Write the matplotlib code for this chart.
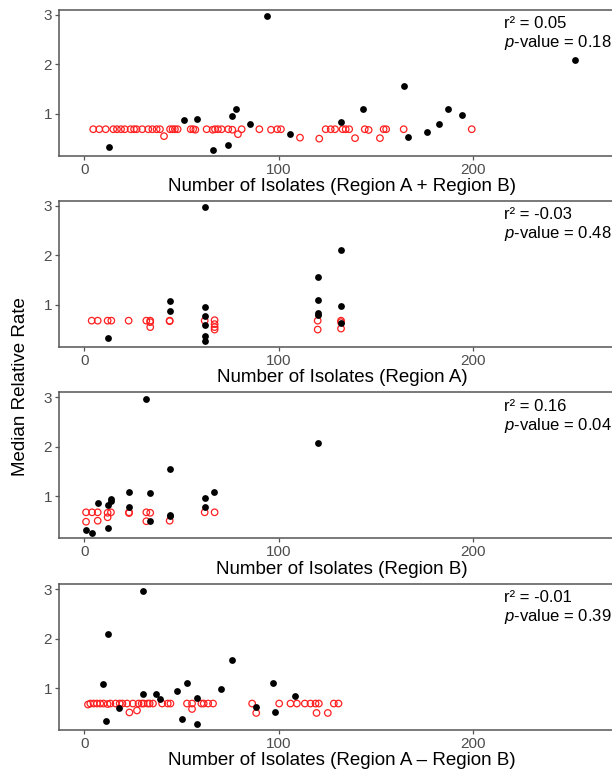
import numpy as np
import matplotlib
matplotlib.use('Agg')
from matplotlib import pyplot as plt

plt.rcParams['font.family'] = ['Liberation Sans', 'DejaVu Sans']
plt.rcParams['mathtext.fontset'] = 'custom'
plt.rcParams['mathtext.rm'] = 'Liberation Sans'
plt.rcParams['mathtext.it'] = 'Liberation Sans:italic'

# panel 1: Region A + Region B
p1_black_x = [12.9, 51.1, 57.8, 66.0, 73.9, 75.9, 78.0, 85.0, 93.9, 105.9, 132.0,
              143.1, 164.4, 166.3, 176.2, 182.2, 187.1, 194.3, 252.4]
p1_black_y = [0.34, 0.885, 0.90, 0.28, 0.38, 0.96, 1.095, 0.80, 2.97, 0.60, 0.84,
              1.10, 1.57, 0.53, 0.635, 0.80, 1.10, 0.98, 2.095]
p1_red_x = [4.6, 7.7, 11.0, 14.9, 16.8, 18.9, 20.8, 23.8, 25.6, 26.9, 29.8, 32.9, 35.0,
            37.2, 38.9, 41.0, 44.1, 45.4, 46.6, 48.0, 54.7, 56.0, 57.1, 62.9, 66.0,
            67.2, 68.7, 70.6, 74.0, 76.1, 79.0, 80.9, 90.0, 96.0, 99.2, 101.1, 110.9,
            120.8, 124.1, 126.7, 128.9, 132.8, 134.4, 136.2, 139.2, 144.2, 146.2,
            152.0, 153.9, 155.2, 164.2, 199.2]
p1_red_y = [0.69, 0.69, 0.69, 0.69, 0.69, 0.69, 0.69, 0.69, 0.69, 0.69, 0.69, 0.69, 0.69,
            0.69, 0.69, 0.55, 0.69, 0.69, 0.69, 0.69, 0.69, 0.69, 0.68, 0.69, 0.68,
            0.69, 0.69, 0.69, 0.69, 0.68, 0.59, 0.69, 0.69, 0.68, 0.69, 0.69, 0.52,
            0.50, 0.69, 0.69, 0.69, 0.69, 0.69, 0.69, 0.51, 0.69, 0.675,
            0.51, 0.69, 0.69, 0.69, 0.69]

# panel 2: Region A
p2_black_x = [12.0, 43.9, 43.9, 61.9, 61.9, 61.9, 61.9, 61.9, 61.9,
              120.0, 120.0, 120.0, 120.0, 132.0, 132.0, 132.0]
p2_black_y = [0.335, 1.08, 0.885, 2.98, 0.95, 0.78, 0.59, 0.376, 0.27,
              1.56, 1.095, 0.84, 0.80, 2.10, 0.98, 0.63]
p2_red_x = [3.8, 6.9, 12.0, 13.9, 22.8, 31.9, 33.9, 33.9, 33.9, 43.9, 43.9, 61.9,
            67.0, 67.0, 67.0, 67.0, 120.0, 120.0, 132.0, 132.0, 132.0]
p2_red_y = [0.68, 0.68, 0.68, 0.68, 0.68, 0.68, 0.68, 0.65, 0.55, 0.68, 0.67, 0.68,
            0.69, 0.61, 0.55, 0.50, 0.68, 0.50, 0.68, 0.65, 0.52]

# panel 3: Region B
p3_black_x = [31.9, 120.0, 43.9, 23.0, 33.9, 66.8, 61.9, 61.9, 6.9, 12.0, 13.7, 13.7,
              23.0, 43.9, 43.9, 33.9, 0.9, 4.0, 12.0]
p3_black_y = [2.965, 2.087, 1.55, 1.085, 1.07, 1.085, 0.96, 0.79, 0.87, 0.83, 0.90, 0.94,
              0.78, 0.63, 0.60, 0.51, 0.33, 0.27, 0.355]
p3_red_x = [0.9, 0.9, 4.0, 6.9, 6.9, 12.0, 12.0, 13.7, 23.0, 23.0, 31.9, 31.9, 33.9,
            43.9, 61.9, 67.0]
p3_red_y = [0.68, 0.49, 0.68, 0.68, 0.51, 0.67, 0.58, 0.68, 0.68, 0.665, 0.68, 0.50, 0.67,
            0.51, 0.68, 0.68]

# panel 4: Region A - Region B
p4_black_x = [30.0, 12.0, 9.8, 11.0, 18.0, 30.0, 37.0, 38.9, 47.8, 50.1, 53.0, 58.0,
              58.0, 70.1, 75.9, 88.1, 97.0, 98.0, 108.2]
p4_black_y = [2.97, 2.10, 1.08, 0.34, 0.60, 0.89, 0.885, 0.78, 0.95, 0.37, 1.10, 0.80,
              0.28, 0.98, 1.56, 0.63, 1.10, 0.51, 0.84]
p4_red_x = [1.9, 3.1, 4.8, 6.5, 8.2, 9.9, 12.0, 13.4, 16.1, 18.2, 19.6, 22.0, 23.2, 25.0,
            27.1, 27.9, 29.5, 30.5, 32.6, 33.6, 35.3, 40.0, 42.9, 44.3, 52.8, 55.4,
            55.4, 60.2, 61.4, 63.7, 66.2, 86.3, 88.4, 100.2, 106.0, 109.3, 113.4,
            116.3, 118.9, 119.4, 120.6, 125.2, 128.3, 130.7]
p4_red_y = [0.67, 0.69, 0.69, 0.69, 0.69, 0.69, 0.68, 0.69, 0.69, 0.69, 0.69, 0.69, 0.51, 0.69,
            0.55, 0.69, 0.69, 0.69, 0.69, 0.69, 0.69, 0.69, 0.69, 0.69, 0.69, 0.69,
            0.58, 0.69, 0.69, 0.69, 0.69, 0.69, 0.50, 0.69, 0.69, 0.69, 0.69,
            0.69, 0.69, 0.50, 0.69, 0.50, 0.69, 0.69]

x_labels = ['Number of Isolates (Region A + Region B)',
            'Number of Isolates (Region A)',
            'Number of Isolates (Region B)',
            'Number of Isolates (Region A \u2013 Region B)']
r2_values = ['0.05', '-0.03', '0.16', '-0.01']
p_values = ['0.18', '0.48', '0.04', '0.39']

panels = [
    (p1_black_x, p1_black_y, p1_red_x, p1_red_y),
    (p2_black_x, p2_black_y, p2_red_x, p2_red_y),
    (p3_black_x, p3_black_y, p3_red_x, p3_red_y),
    (p4_black_x, p4_black_y, p4_red_x, p4_red_y),
]

fig = plt.figure(figsize=(6.12, 7.74), dpi=100)
spine_col = '#555555'
bottoms = [0.7988, 0.5521, 0.3045, 0.0568]
height = 0.1885
left = 59 / 612
right = 625 / 612  # panel runs a little past the image edge

for i, (bx, by, rx, ry) in enumerate(panels):
    ax = fig.add_axes([left, bottoms[i], right - left, height])
    ax.scatter(rx, ry, s=22, facecolors='none', edgecolors='#ff2020', linewidths=0.9, zorder=2)
    ax.scatter(bx, by, s=24, color='black', linewidths=0, zorder=3)
    ax.set_xlim(-13, 278)
    ax.set_ylim(0.155, 3.10)
    ax.set_xticks([0, 100, 200])
    ax.set_yticks([1, 2, 3])
    ax.spines['right'].set_visible(False)
    for s in ['left', 'top', 'bottom']:
        ax.spines[s].set_color(spine_col)
        ax.spines[s].set_linewidth(1.1)
    ax.tick_params(colors=spine_col, labelcolor='#4d4d4d', labelsize=11, length=3, width=0.9, pad=2)
    ax.set_xlabel(x_labels[i], fontsize=13.5, labelpad=1)
    # stats block in the top right corner
    tx = (504 - 59) / (625 - 59)
    ax.text(tx, 0.905, 'r\u00b2 = ' + r2_values[i], transform=ax.transAxes,
            fontsize=12, va='center', ha='left')
    ax.text(tx, 0.775, r'$p$-value = ' + p_values[i], transform=ax.transAxes,
            fontsize=12, va='center', ha='left')

fig.text(0.033, 0.5, 'Median Relative Rate', rotation=90, fontsize=13.5,
         va='center', ha='center')

fig.savefig('out.png', dpi=100)
